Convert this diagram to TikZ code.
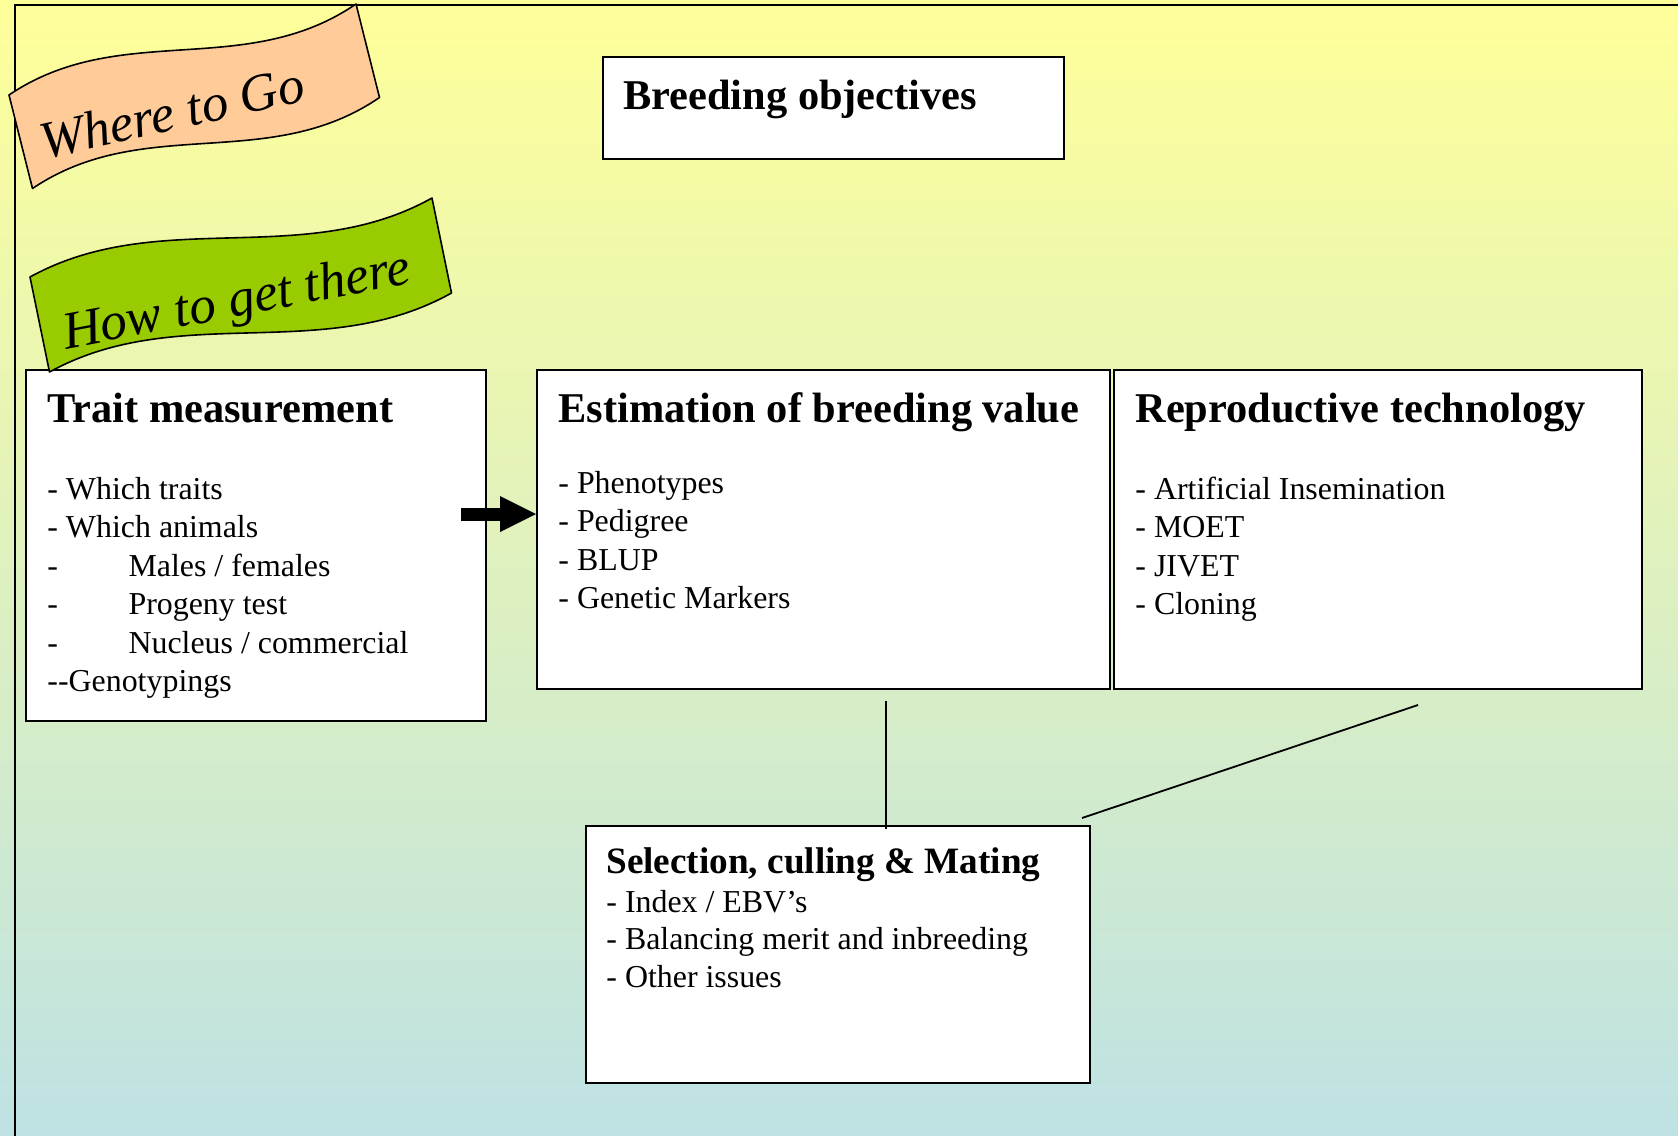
\documentclass[tikz,border=0pt]{standalone}
\usepackage{fontspec}
\setmainfont{Liberation Serif}
\usetikzlibrary{arrows.meta,fit}
\definecolor{bgtop}{RGB}{255,255,153}
\definecolor{bgbot}{RGB}{190,226,228}
\definecolor{salmon}{RGB}{255,204,153}
\definecolor{leaf}{RGB}{153,204,0}
\begin{document}
\begin{tikzpicture}[x=0.5pt,y=-0.5pt,
  box/.style={draw, line width=1pt, fill=white, inner sep=0pt},
  ttl/.style={anchor=base west, inner sep=0pt, font=\fontsize{21.2pt}{25pt}\selectfont\bfseries},
  smallttl/.style={anchor=base west, inner sep=0pt, font=\fontsize{18.6pt}{22pt}\selectfont\bfseries},
  body/.style={anchor=base west, inner sep=0pt, font=\fontsize{15.95pt}{19pt}\selectfont},
  banner/.style={draw, line width=0.8pt, line join=round},
  bannertext/.style={anchor=base, inner sep=0pt, font=\fontsize{26.5pt}{31pt}\selectfont\itshape},
  link/.style={line width=0.9pt},
  bigarrow/.style={line width=6.5pt, -{Triangle[length=18pt,width=18pt,line width=0pt]}}]

\useasboundingbox (0,0) rectangle (1678,1136);
\shade[top color=bgtop, bottom color=bgbot] (0,0) rectangle (1678,1136);
\draw[line width=1pt] (15,1136) -- (15,5) -- (1678,5);

% boxes
\node[box, fit={(603,57) (1064,159)}] (obj) {};
\node[box, fit={(26,370) (486,721)}] (trait) {};
\node[box, fit={(537,370) (1110,689)}] (est) {};
\node[box, fit={(1114,370) (1642,689)}] (rep) {};
\node[box, fit={(586,826) (1090,1083)}] (sel) {};

% banners
\draw[banner, fill=salmon] (9,95) .. controls (120,20) and (245,80) .. (356,4)
  -- (379.5,97.5) .. controls (268.5,173.5) and (143.5,113.5) .. (32.5,188.5) -- cycle;
\node[bannertext, rotate=12.5] (where) at (176,130) {Where to Go};
\draw[banner, fill=leaf] (30,277) .. controls (159,206) and (303,270) .. (432,198)
  -- (451.5,293) .. controls (322.5,365) and (178.5,301) .. (49.5,372) -- cycle;
\node[bannertext, rotate=10.8] (how) at (239.5,316) {How to get there};

% texts
\node[ttl] (objt) at (623,109) {Breeding objectives};

\node[ttl] (traitt) at (47,422) {Trait measurement};
\foreach \t [count=\i] in {{- Which traits},{- Which animals},{-\hspace{35.25pt}Males / females},{-\hspace{35.25pt}Progeny test},{-\hspace{35.25pt}Nucleus / commercial},{{-}{-}Genotypings}}
  \node[body] (trait-\i) at (47,{499+38.5*(\i-1)}) {\t};

\node[ttl] (estt) at (558,422) {Estimation of breeding value};
\foreach \t [count=\i] in {{- Phenotypes},{- Pedigree},{- BLUP},{- Genetic Markers}}
  \node[body] (est-\i) at (558,{493+38.5*(\i-1)}) {\t};

\node[ttl] (rept) at (1135,422) {Reproductive technology};
\foreach \t [count=\i] in {{- Artificial Insemination},{- MOET},{- JIVET},{- Cloning}}
  \node[body] (rep-\i) at (1135,{499+38.5*(\i-1)}) {\t};

\node[smallttl] (selt) at (606,873) {Selection, culling \& Mating};
\foreach \t [count=\i] in {{- Index / EBV’s},{- Balancing merit and inbreeding},{- Other issues}}
  \node[body] (sel-\i) at (606,{912+37.5*(\i-1)}) {\t};

% connectors
\coordinate (arrowy) at (0,514);
\draw[bigarrow] ([xshift=-13pt]trait.east |- arrowy) -- (est.west |- arrowy);
\coordinate (vtop) at (886,701);
\draw[link] (vtop) -- ([yshift=-2pt]vtop |- sel.north);
\coordinate (dtop) at (1418,705);
\coordinate (dbot) at (1082,818);
\draw[link] (dtop) -- (dbot);
\end{tikzpicture}
\end{document}
